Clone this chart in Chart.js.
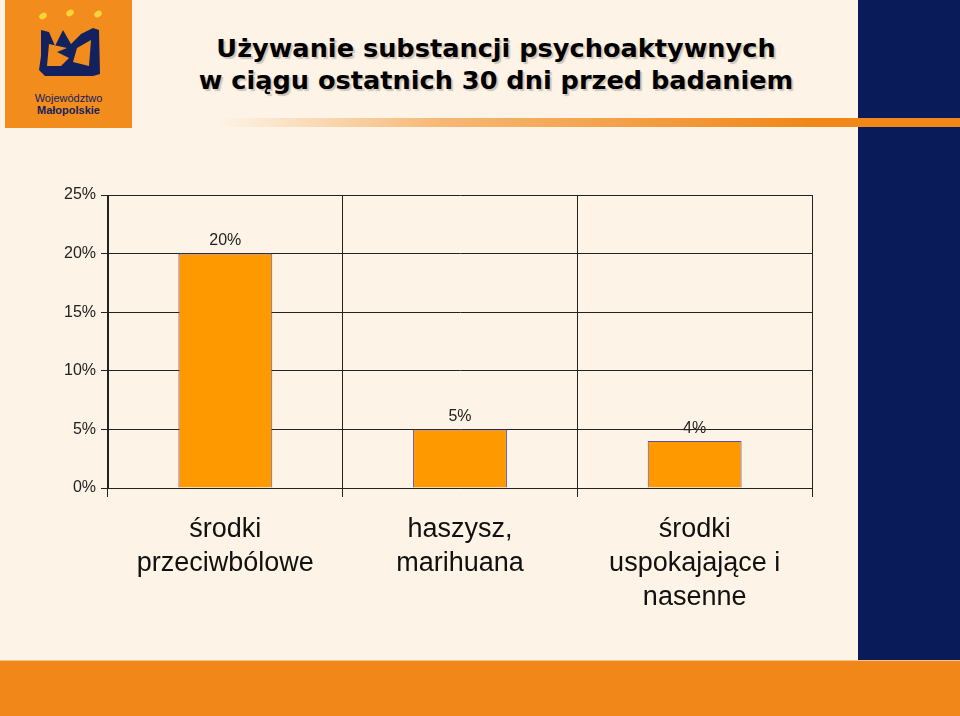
<!DOCTYPE html>
<html><head><meta charset="utf-8">
<script src="https://cdn.jsdelivr.net/npm/chart.js@4"></script>
<style>
html,body{margin:0;padding:0;}
body{width:960px;height:716px;position:relative;overflow:hidden;background:#FDF3E6;font-family:"Liberation Sans",Arial,sans-serif;}
#navy{position:absolute;left:858px;top:0;width:102px;height:660px;background:#0A1B5A;}
#bottom{position:absolute;left:0;top:660px;width:960px;height:56px;background:#F08718;border-top:1px solid #F7C58A;}
#stripe{position:absolute;left:220px;top:118px;width:740px;height:9px;background:linear-gradient(to right,rgba(240,135,24,0),rgba(240,135,24,0.55) 30%,#F08718 80%);}
#logo{position:absolute;left:5px;top:0;width:127px;height:128px;background:#F28C1C;}
#logo .t1{position:absolute;left:0;width:127px;top:92px;text-align:center;font-size:11px;color:#13225E;}
#logo .t2{position:absolute;left:0;width:127px;top:104px;text-align:center;font-size:11px;font-weight:bold;color:#13225E;}
#title{position:absolute;left:136px;width:720px;top:32px;text-align:center;font-family:"DejaVu Sans",sans-serif;font-weight:bold;font-size:25.6px;line-height:32px;color:#000;text-shadow:2px 2px 1px rgba(120,110,100,0.35);}
#c{position:absolute;left:0;top:0;}
</style></head>
<body>
<div id="navy"></div>
<div id="bottom"></div>
<div id="stripe"></div>
<div id="logo">
<svg width="127" height="92" viewBox="0 0 127 92" style="position:absolute;left:0;top:0">
<ellipse cx="38" cy="16" rx="4" ry="3" fill="#F5D63A" transform="rotate(-30 38 16)"/>
<ellipse cx="65" cy="13" rx="4" ry="3" fill="#F5D63A" transform="rotate(-30 65 13)"/>
<ellipse cx="93" cy="14" rx="4" ry="3" fill="#F5D63A" transform="rotate(-30 93 14)"/>
<path d="M36 30 L44 32 L50 46 L58 30 L66 44 L76 34 L88 28 L94 30 L95 74 L88 76 L40 76 L34 70 L36 56 Z M44 44 L42 66 L56 66 L64 58 L52 52 L62 48 Z M72 48 L68 62 L84 66 L86 40 Z" fill="#13225E" fill-rule="evenodd"/>
</svg>
<div class="t1">Województwo</div>
<div class="t2">Małopolskie</div>
</div>
<div id="title">Używanie substancji psychoaktywnych<br>w ciągu ostatnich 30 dni przed badaniem</div>
<canvas id="c" width="960" height="716"></canvas>
<script>
const categories = [["środki","przeciwbólowe"],["haszysz,","marihuana"],["środki","uspokajające i","nasenne"]];
const values = [20, 5, 4];
const yTicks = [0, 5, 10, 15, 20, 25];

const valueLabels = {
  id: 'valueLabels',
  afterDatasetsDraw(chart) {
    const ctx = chart.ctx;
    const meta = chart.getDatasetMeta(0);
    ctx.save();
    ctx.font = '16px "Liberation Sans", Arial, sans-serif';
    ctx.fillStyle = '#222';
    ctx.textAlign = 'center';
    ctx.textBaseline = 'middle';
    meta.data.forEach((el, i) => {
      ctx.fillText(values[i] + '%', el.x, el.y - 13);
    });
    ctx.restore();
  }
};

new Chart(document.getElementById('c'), {
  type: 'bar',
  data: {
    labels: categories,
    datasets: [{
      data: values,
      backgroundColor: '#FF9900',
      borderColor: '#5A4FA8',
      borderWidth: 1,
      barPercentage: 0.4,
      categoryPercentage: 1.0
    }]
  },
  options: {
    responsive: false,
    animation: false,
    events: [],
    layout: { padding: { left: 48, right: 148, top: 195, bottom: 78 } },
    plugins: { legend: { display: false }, tooltip: { enabled: false } },
    scales: {
      x: {
        grid: { offset: true, color: '#222', lineWidth: 1, tickLength: 9, drawTicks: true },
        border: { color: '#222' },
        ticks: { font: { family: '"Liberation Sans", Arial, sans-serif', size: 27, lineHeight: 1.27 }, color: '#111', padding: 15, maxRotation: 0, autoSkip: false },
        afterFit: (s) => { s.height = 150; }
      },
      y: {
        min: 0, max: 25,
        afterBuildTicks: (s) => { s.ticks = yTicks.map(v => ({ value: v })); },
        grid: { color: '#222', lineWidth: 1, tickLength: 7 },
        border: { color: '#222' },
        ticks: { callback: (v) => v + '%', font: { family: '"Liberation Sans", Arial, sans-serif', size: 16 }, color: '#222', padding: 5 },
        afterFit: (s) => { s.width = 60; }
      }
    }
  },
  plugins: [valueLabels]
});
</script>
</body></html>
